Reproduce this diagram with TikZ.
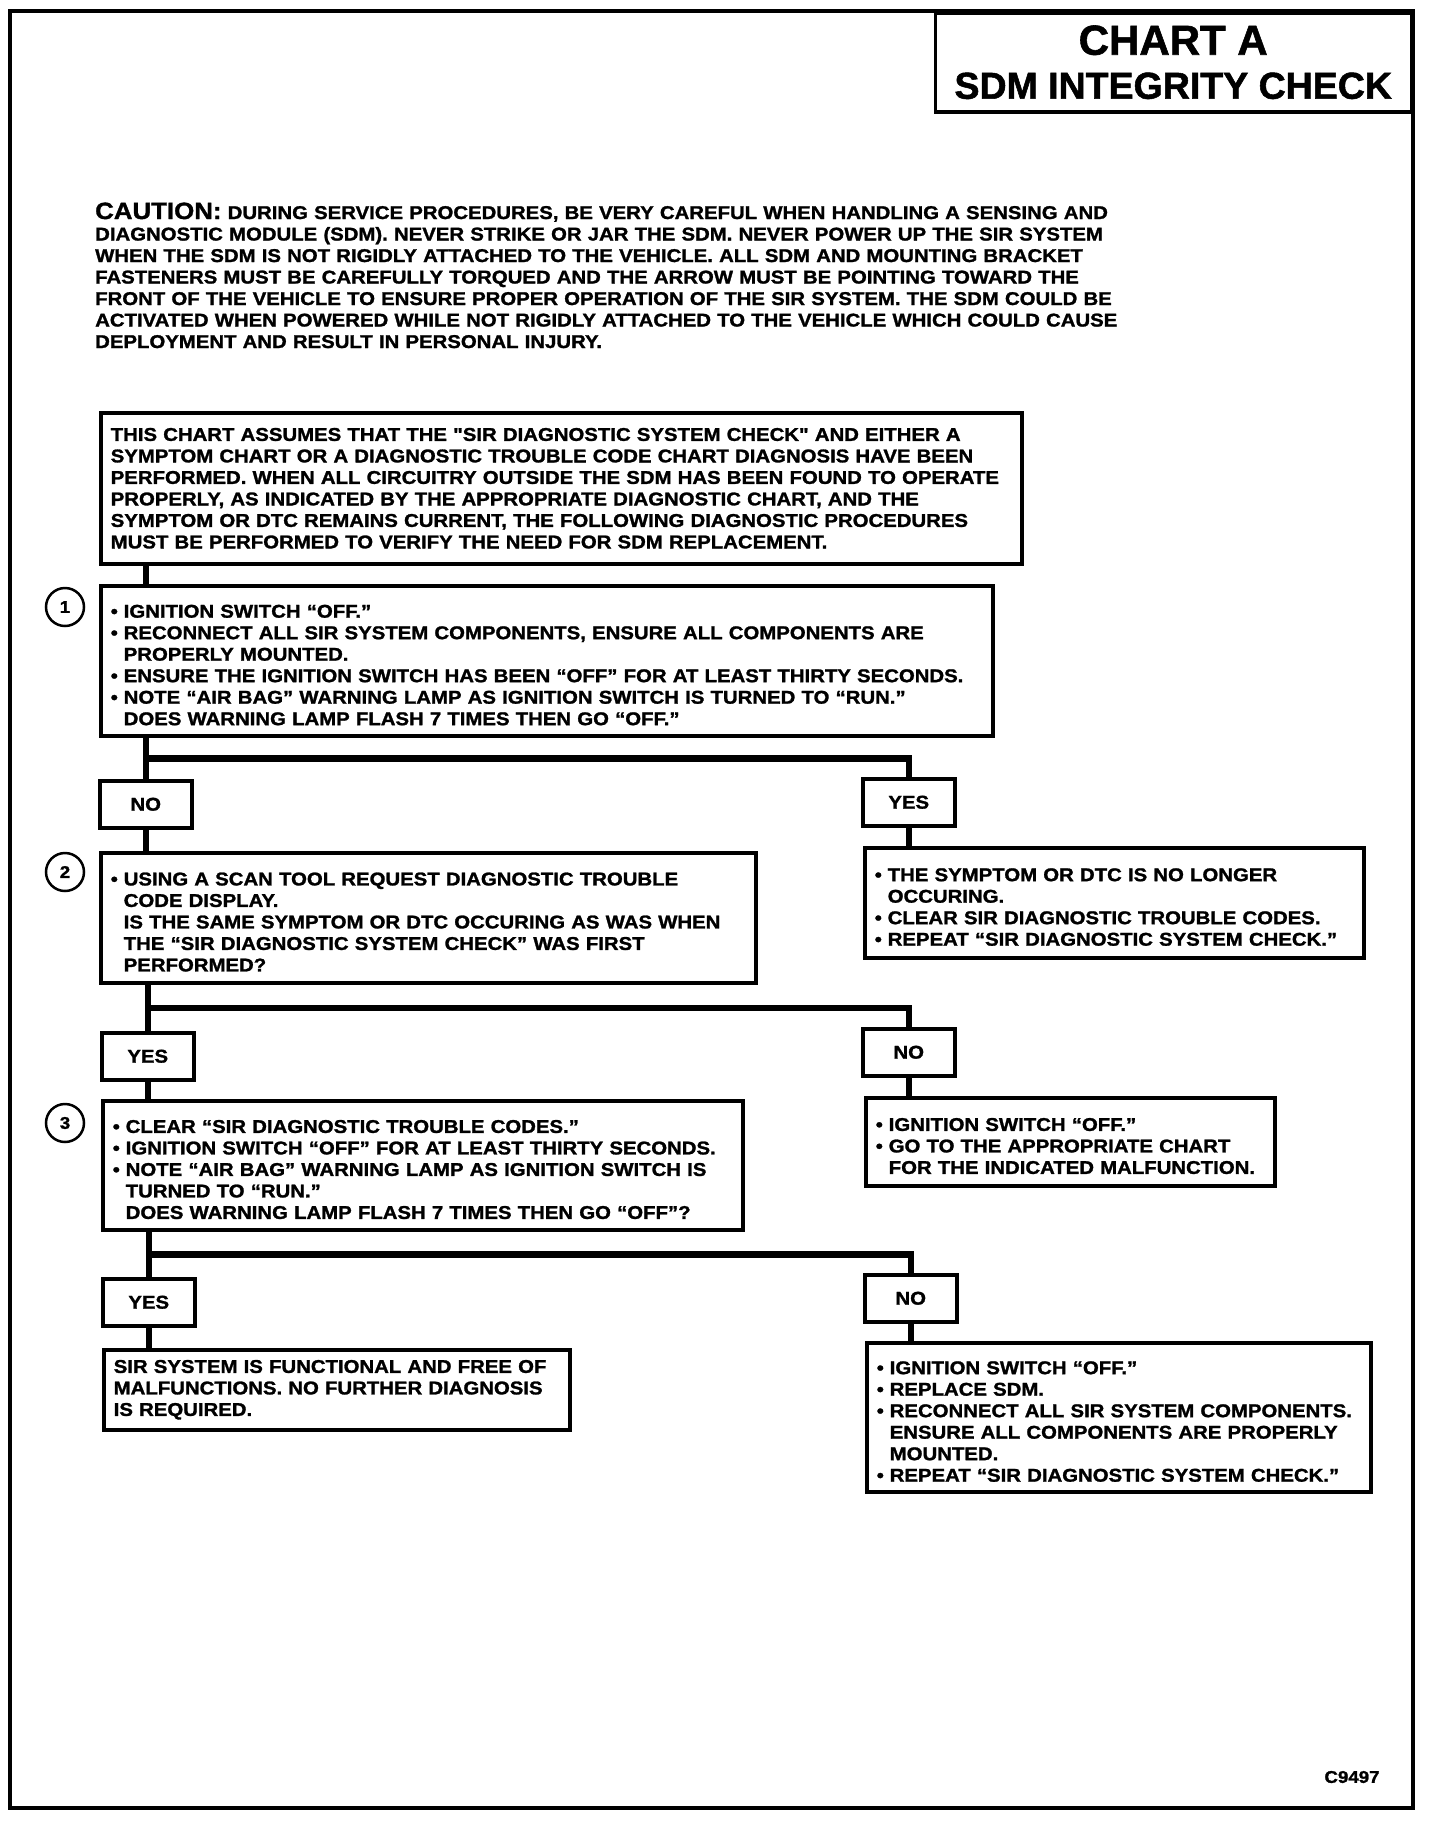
\documentclass[tikz,border=0pt]{standalone}
\usepackage{fontspec}
\usepackage{tikz}
\usetikzlibrary{positioning,calc}
\newfontfamily\chartfont[FakeStretch=1.1,FakeBold=1.4]{Liberation Sans Bold}
\newfontfamily\headfont[FakeBold=1.4]{Liberation Sans Bold}
\newcommand{\boxtext}{\chartfont\fontsize{18.5}{21.5}\selectfont}
\newcommand{\bul}{\par\hangindent=13pt\hangafter=1\noindent\hbox to 13pt{\textbullet\hfil}}
\tikzset{
  panel/.style={rectangle, draw, line width=3.5pt, fill=white, anchor=north west,
                inner xsep=10pt, inner ysep=0pt, align=left, font=\boxtext},
  tag/.style={rectangle, draw, line width=3.5pt, fill=white, anchor=north west,
              minimum width=92pt, minimum height=47pt, inner sep=0pt, font=\boxtext},
  num/.style={circle, draw, line width=2.5pt, minimum size=38pt, inner sep=0pt,
              font=\chartfont\fontsize{17}{17}\selectfont},
  link/.style={line width=6.5pt},
}

\begin{document}
\begin{tikzpicture}[x=1pt, y=-1pt]
  \useasboundingbox (0,0) rectangle (1440,1824);
  \draw[line width=4.5pt] (10,11) rectangle (1413,1808);
  \node[rectangle, draw, line width=3.5pt, fill=white, anchor=north east,
        minimum width=476pt, minimum height=99pt, align=center,
        font=\headfont\fontsize{38}{44}\selectfont] (title) at (1413,11)
    {{\fontsize{42}{44}\selectfont CHART A}\\{\fontsize{37.5}{44}\selectfont SDM INTEGRITY CHECK}};

  \node[anchor=base west, inner sep=0pt, text width=1100pt, align=left, font=\boxtext] (caution) at (95,219)
    {{\fontsize{23.5}{21.5}\selectfont CAUTION:} DURING SERVICE PROCEDURES, BE VERY CAREFUL WHEN HANDLING A SENSING AND\newline
     DIAGNOSTIC MODULE (SDM). NEVER STRIKE OR JAR THE SDM. NEVER POWER UP THE SIR SYSTEM\newline
     WHEN THE SDM IS NOT RIGIDLY ATTACHED TO THE VEHICLE. ALL SDM AND MOUNTING BRACKET\newline
     FASTENERS MUST BE CAREFULLY TORQUED AND THE ARROW MUST BE POINTING TOWARD THE\newline
     FRONT OF THE VEHICLE TO ENSURE PROPER OPERATION OF THE SIR SYSTEM. THE SDM COULD BE\newline
     ACTIVATED WHEN POWERED WHILE NOT RIGIDLY ATTACHED TO THE VEHICLE WHICH COULD CAUSE\newline
     DEPLOYMENT AND RESULT IN PERSONAL INJURY.};

  % main column
  \node[panel, minimum width=921pt, minimum height=151pt, text width=901pt] (intro) at (99,411)
    {THIS CHART ASSUMES THAT THE "SIR DIAGNOSTIC SYSTEM CHECK" AND EITHER A\newline
     SYMPTOM CHART OR A DIAGNOSTIC TROUBLE CODE CHART DIAGNOSIS HAVE BEEN\newline
     PERFORMED. WHEN ALL CIRCUITRY OUTSIDE THE SDM HAS BEEN FOUND TO OPERATE\newline
     PROPERLY, AS INDICATED BY THE APPROPRIATE DIAGNOSTIC CHART, AND THE\newline
     SYMPTOM OR DTC REMAINS CURRENT, THE FOLLOWING DIAGNOSTIC PROCEDURES\newline
     MUST BE PERFORMED TO VERIFY THE NEED FOR SDM REPLACEMENT.};
  \node[panel, minimum width=892pt, minimum height=150pt, text width=872pt] (step1) at (99,584)
    {\bul IGNITION SWITCH “OFF.”
     \bul RECONNECT ALL SIR SYSTEM COMPONENTS, ENSURE ALL COMPONENTS ARE\newline PROPERLY MOUNTED.
     \bul ENSURE THE IGNITION SWITCH HAS BEEN “OFF” FOR AT LEAST THIRTY SECONDS.
     \bul NOTE “AIR BAG” WARNING LAMP AS IGNITION SWITCH IS TURNED TO “RUN.”\newline
          DOES WARNING LAMP FLASH 7 TIMES THEN GO “OFF.”\par};
  \node[tag] (no1) at (98,779) {NO};
  \node[tag] (yes1) at (861,777) {YES};
  \node[panel, minimum width=655pt, minimum height=130pt, text width=635pt] (step2) at (99,851)
    {\bul USING A SCAN TOOL REQUEST DIAGNOSTIC TROUBLE\newline CODE DISPLAY.\newline
          IS THE SAME SYMPTOM OR DTC OCCURING AS WAS WHEN\newline
          THE “SIR DIAGNOSTIC SYSTEM CHECK” WAS FIRST\newline PERFORMED?\par};
  \node[panel, minimum width=499pt, minimum height=110pt, text width=479pt] (clear1) at (863,846)
    {\bul THE SYMPTOM OR DTC IS NO LONGER\newline OCCURING.
     \bul CLEAR SIR DIAGNOSTIC TROUBLE CODES.
     \bul REPEAT “SIR DIAGNOSTIC SYSTEM CHECK.”\par};
  \node[tag] (yes2) at (100,1031) {YES};
  \node[tag] (no2) at (861,1027) {NO};
  \node[panel, minimum width=640pt, minimum height=129pt, text width=620pt] (step3) at (101,1099)
    {\bul CLEAR “SIR DIAGNOSTIC TROUBLE CODES.”
     \bul IGNITION SWITCH “OFF” FOR AT LEAST THIRTY SECONDS.
     \bul NOTE “AIR BAG” WARNING LAMP AS IGNITION SWITCH IS\newline TURNED TO “RUN.”\newline
          DOES WARNING LAMP FLASH 7 TIMES THEN GO “OFF”?\par};
  \node[panel, minimum width=409pt, minimum height=88pt, text width=389pt] (other) at (864,1096)
    {\bul IGNITION SWITCH “OFF.”
     \bul GO TO THE APPROPRIATE CHART\newline FOR THE INDICATED MALFUNCTION.\par};
  \node[tag] (yes3) at (101,1277) {YES};
  \node[tag] (no3) at (863,1273) {NO};
  \node[panel, minimum width=466pt, minimum height=80pt, text width=446pt] (okay) at (102,1348)
    {SIR SYSTEM IS FUNCTIONAL AND FREE OF\newline
     MALFUNCTIONS. NO FURTHER DIAGNOSIS\newline IS REQUIRED.};
  \node[panel, minimum width=504pt, minimum height=149pt, text width=484pt] (replace) at (865,1341)
    {\bul IGNITION SWITCH “OFF.”
     \bul REPLACE SDM.
     \bul RECONNECT ALL SIR SYSTEM COMPONENTS.\newline
          ENSURE ALL COMPONENTS ARE PROPERLY\newline MOUNTED.
     \bul REPEAT “SIR DIAGNOSTIC SYSTEM CHECK.”\par};

  \node[num] (n1) at (65,607) {1};
  \node[num] (n2) at (65,872) {2};
  \node[num] (n3) at (65,1123) {3};

  % branches
  \coordinate (j1) at ($(step1.south -| no1)!0.5!(no1.north)$);
  \coordinate (j2) at ($(step2.south -| yes2)!0.5!(yes2.north)$);
  \coordinate (j3) at ($(step3.south -| yes3)!0.5!(yes3.north)$);
  \draw[link] (intro.south -| no1) -- (step1.north -| no1);
  \draw[link] (step1.south -| no1) -- (no1.north);
  \draw[link] (j1) -| (yes1.north);
  \draw[link] (no1.south) -- (step2.north -| no1);
  \draw[link] (yes1.south) -- (clear1.north -| yes1);
  \draw[link] (step2.south -| yes2) -- (yes2.north);
  \draw[link] (j2) -| (no2.north);
  \draw[link] (yes2.south) -- (step3.north -| yes2);
  \draw[link] (no2.south) -- (other.north -| no2);
  \draw[link] (step3.south -| yes3) -- (yes3.north);
  \draw[link] (j3) -| (no3.north);
  \draw[link] (yes3.south) -- (okay.north -| yes3);
  \draw[link] (no3.south) -- (replace.north -| no3);

  \node[font=\chartfont\fontsize{17}{17}\selectfont] (code) at (1352,1777) {C9497};
\end{tikzpicture}
\end{document}
